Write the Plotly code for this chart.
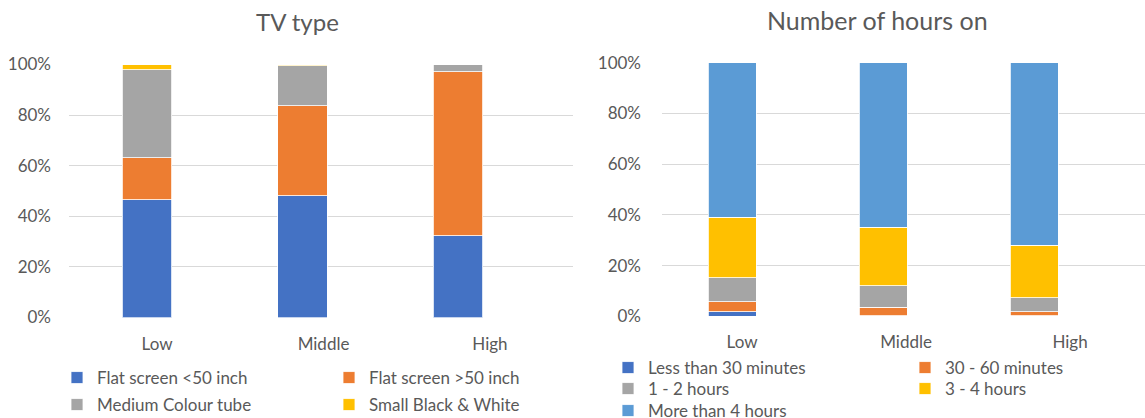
import plotly.graph_objects as go

# ---------------- data ----------------
income_levels = ["Low", "Middle", "High"]

tv_types = ["Flat screen <50 inch", "Flat screen >50 inch", "Medium Colour tube", "Small Black & White"]
flat_small = [46.6, 48.2, 32.4]
flat_large = [16.6, 35.5, 64.7]
medium_tube = [34.8, 15.9, 2.9]
small_bw = [2.0, 0.4, 0.0]

hour_groups = ["Less than 30 minutes", "30 - 60 minutes", "1 - 2 hours", "3 - 4 hours", "More than 4 hours"]
less_30 = [1.7, 0.2, 0.2]
min_30_60 = [4.1, 3.3, 1.6]
hours_1_2 = [9.4, 8.6, 5.6]
hours_3_4 = [23.8, 23.0, 20.6]
more_4 = [61.0, 64.9, 72.0]

pct_ticks = [0, 20, 40, 60, 80, 100]
pct_labels = ["0%", "20%", "40%", "60%", "80%", "100%"]

# ---------------- style ----------------
W, H = 1145, 418
FONT = "Lato, 'Open Sans', Arial, sans-serif"
TXT = "#595959"
GRID = "#d9d9d9"
tv_colors = ["#4472C4", "#ED7D31", "#A5A5A5", "#FFC000"]
hr_colors = ["#4472C4", "#ED7D31", "#A5A5A5", "#FFC000", "#5B9BD5"]


def px_x(p):
    return p / W


def px_y(p):
    return 1 - p / H


fig = go.Figure()

tv_series = [flat_small, flat_large, medium_tube, small_bw]
tv_legends = ["legend", "legend", "legend2", "legend2"]
for name, vals, col, lg in zip(tv_types, tv_series, tv_colors, tv_legends):
    fig.add_trace(go.Bar(
        x=income_levels, y=vals, name=name, marker_color=col,
        marker_line=dict(color="white", width=0.8), width=0.32,
        xaxis="x", yaxis="y", legend=lg, hoverinfo="name+y",
    ))

hr_series = [less_30, min_30_60, hours_1_2, hours_3_4, more_4]
hr_legends = ["legend3", "legend3", "legend4", "legend4", "legend5"]
for name, vals, col, lg in zip(hour_groups, hr_series, hr_colors, hr_legends):
    fig.add_trace(go.Bar(
        x=income_levels, y=vals, name=name, marker_color=col,
        marker_line=dict(color="white", width=0.8), width=0.318,
        xaxis="x2", yaxis="y2", legend=lg, hoverinfo="name+y",
    ))

# category label axes (the screenshot's category labels sit on a slightly wider spacing than the bars)
for xa, ya in (("x3", "y"), ("x4", "y2")):
    fig.add_trace(go.Scatter(
        x=income_levels, y=[0] * len(income_levels), xaxis=xa, yaxis=ya,
        mode="markers", marker=dict(opacity=0), showlegend=False, hoverinfo="skip",
    ))

yax_common = dict(
    range=[0, 100], tickmode="array", tickvals=pct_ticks, ticktext=pct_labels,
    showgrid=True, gridcolor=GRID, gridwidth=1.3, zeroline=False,
    showline=False, ticks="", tickfont=dict(family=FONT, size=17, color=TXT),
    fixedrange=True,
)
xax_common = dict(
    type="category", showgrid=False, zeroline=False, showline=False,
    showticklabels=False, ticks="", fixedrange=True,
)
lab_common = dict(
    type="category", categoryorder="array", categoryarray=income_levels,
    showgrid=False, zeroline=False, showline=False, ticks="",
    tickfont=dict(family=FONT, size=17, color=TXT), ticklabelstandoff=14,
    fixedrange=True,
)

legend_common = dict(
    orientation="h", font=dict(family=FONT, size=17, color=TXT),
    xanchor="left", yanchor="middle", bgcolor="rgba(0,0,0,0)",
    entrywidthmode="pixels", itemclick=False, itemdoubleclick=False,
    traceorder="normal",
)

fig.update_layout(
    width=W, height=H,
    margin=dict(l=0, r=0, t=0, b=0, autoexpand=False),
    paper_bgcolor="white", plot_bgcolor="rgba(0,0,0,0)",
    barmode="stack", barnorm="percent",
    font=dict(family=FONT, color=TXT),
    xaxis=dict(domain=[px_x(69), px_x(573)], range=[-0.502, 2.740], anchor="y", **xax_common),
    yaxis=dict(domain=[px_y(317.5), px_y(64.5)], anchor="x", ticklabelstandoff=17, **yax_common),
    xaxis2=dict(domain=[px_x(662), 1.0], range=[-0.464, 2.735], anchor="y2", **xax_common),
    yaxis2=dict(domain=[px_y(316.3), px_y(62.7)], anchor="x2", ticklabelstandoff=20, **yax_common),
    xaxis3=dict(overlaying="x", anchor="y", range=[-0.529, 2.499], **lab_common),
    xaxis4=dict(overlaying="x2", anchor="y2", range=[-0.488, 2.457], **lab_common),
    legend=dict(x=px_x(57), y=px_y(378), entrywidth=227, **legend_common),
    legend2=dict(x=px_x(57), y=px_y(405), entrywidth=227, **legend_common),
    legend3=dict(x=px_x(608), y=px_y(368), entrywidth=252, **legend_common),
    legend4=dict(x=px_x(608), y=px_y(389), entrywidth=252, **legend_common),
    legend5=dict(x=px_x(608), y=px_y(411), entrywidth=252, **legend_common),
    annotations=[
        dict(text="TV type", x=px_x(298), y=px_y(22), xref="paper", yref="paper",
             xanchor="center", yanchor="middle", showarrow=False,
             font=dict(family=FONT, size=24, color=TXT)),
        dict(text="Number of hours on", x=px_x(877), y=px_y(20), xref="paper", yref="paper",
             xanchor="center", yanchor="middle", showarrow=False,
             font=dict(family=FONT, size=25, color=TXT)),
    ],
)

fig.write_html(
    "out.html",
    config={"displayModeBar": False},
    post_script="document.body.style.margin='0';",
)
